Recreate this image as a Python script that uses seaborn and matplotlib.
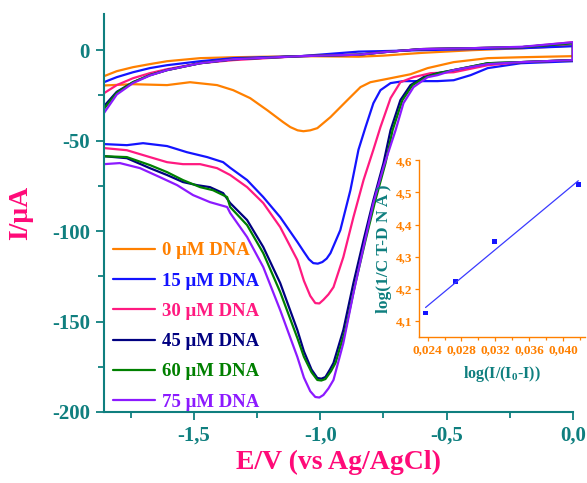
import numpy as np
import pandas as pd
import matplotlib
matplotlib.use("Agg")
import matplotlib.pyplot as plt
import seaborn as sns
from matplotlib.lines import Line2D
from matplotlib.ticker import MultipleLocator, FuncFormatter

# ---- data ----
series = ["0 μM DNA", "15 μM DNA", "30 μM DNA", "45 μM DNA", "60 μM DNA", "75 μM DNA"]
colors = ["#ff8000", "#1414ff", "#ff1a80", "#000080", "#008000", "#8c1aff"]

# upper (return) branch, same E points for every curve
e_up = [-1.857, -1.806, -1.742, -1.675, -1.607, -1.476, -1.345, -1.079, -0.849, -0.75, -0.6, -0.4, -0.2, 0.0]
i_up = {
    "0 μM DNA":  [-14.4, -11.6, -9.4, -7.7, -6.1, -4.4, -3.9, -3.3, -3.6, -3.0, -1.5, 0.0, 1.1, 2.5],
    "15 μM DNA": [-17.7, -14.9, -12.2, -9.9, -8.3, -6.1, -4.4, -3.3, -0.8, -0.5, 0.0, 0.6, 1.1, 2.2],
    "30 μM DNA": [-23.8, -19.3, -15.5, -12.7, -10.5, -7.2, -5.5, -3.3, -2.5, -1.1, 0.6, 1.1, 1.7, 4.4],
    "45 μM DNA": [-31.0, -23.0, -17.7, -13.8, -11.0, -7.2, -5.0, -3.3, -2.5, -1.1, 0.6, 1.1, 1.7, 3.9],
    "60 μM DNA": [-32.5, -23.5, -17.7, -13.8, -11.0, -7.2, -5.0, -3.3, -2.5, -1.1, 0.6, 1.1, 1.7, 3.9],
    "75 μM DNA": [-34.8, -24.5, -18.2, -14.0, -11.0, -7.2, -5.0, -3.3, -2.5, -1.1, 0.6, 1.1, 1.9, 4.4],
}

# lower (cathodic) branch, left to right
e_dn = {
    "0 μM DNA": [-1.857, -1.742, -1.607, -1.516, -1.409, -1.345, -1.278, -1.210, -1.147, -1.119, -1.090,
                 -1.067, -1.040, -1.012, -0.960, -0.893, -0.841, -0.802, -0.722, -0.643, -0.575, -0.472,
                 -0.337, -0.206, 0.0],
    "15 μM DNA": [-1.857, -1.766, -1.702, -1.607, -1.528, -1.448, -1.385, -1.357, -1.290, -1.226, -1.159,
                  -1.091, -1.065, -1.045, -1.028, -1.010, -0.992, -0.975, -0.960, -0.921, -0.881, -0.849,
                  -0.821, -0.790, -0.762, -0.722, -0.671, -0.603, -0.536, -0.472, -0.405, -0.337, -0.206, 0.0],
    "30 μM DNA": [-1.857, -1.766, -1.675, -1.607, -1.544, -1.476, -1.409, -1.357, -1.290, -1.226, -1.159,
                  -1.091, -1.065, -1.040, -1.020, -1.004, -0.988, -0.968, -0.948, -0.909, -0.869, -0.829,
                  -0.790, -0.762, -0.722, -0.683, -0.631, -0.563, -0.472, -0.337, -0.206, 0.0],
    "45 μM DNA": [-1.857, -1.766, -1.675, -1.607, -1.544, -1.488, -1.437, -1.385, -1.357, -1.290, -1.226,
                  -1.159, -1.091, -1.065, -1.035, -1.012, -0.996, -0.980, -0.962, -0.948, -0.909, -0.869,
                  -0.829, -0.790, -0.750, -0.722, -0.683, -0.643, -0.591, -0.536, -0.472, -0.337, -0.206, 0.0],
    "60 μM DNA": [-1.857, -1.766, -1.675, -1.607, -1.544, -1.476, -1.425, -1.369, -1.357, -1.290, -1.226,
                  -1.159, -1.091, -1.065, -1.035, -1.012, -0.996, -0.980, -0.958, -0.940, -0.901, -0.861,
                  -0.821, -0.782, -0.742, -0.714, -0.675, -0.635, -0.583, -0.532, -0.472, -0.337, -0.206, 0.0],
    "75 μM DNA": [-1.857, -1.794, -1.714, -1.635, -1.567, -1.504, -1.437, -1.369, -1.357, -1.290, -1.226,
                  -1.159, -1.091, -1.065, -1.040, -1.020, -1.004, -0.988, -0.968, -0.948, -0.909, -0.869,
                  -0.829, -0.790, -0.750, -0.702, -0.671, -0.631, -0.575, -0.536, -0.472, -0.337, -0.206, 0.0],
}
i_dn = {
    "0 μM DNA": [-19.5, -18.8, -19.3, -17.7, -19.3, -22.1, -26.5, -33.2, -39.8, -42.5, -44.3,
                 -44.8, -44.3, -43.1, -37.0, -27.6, -20.4, -17.7, -15.5, -13.3, -9.9, -6.6,
                 -4.4, -3.9, -3.3],
    "15 μM DNA": [-51.9, -52.5, -51.4, -53.0, -56.4, -59.1, -61.9, -65.0, -71.8, -81.2, -92.3,
                  -106.0, -111.5, -115.6, -117.7, -118.0, -117.1, -115.2, -112.2, -99.5, -77.4, -55.0,
                  -42.5, -29.3, -22.1, -18.2, -17.1, -17.1, -17.1, -16.6, -13.8, -9.9, -7.2, -6.1],
    "30 μM DNA": [-54.1, -55.3, -59.1, -61.9, -63.0, -63.0, -65.2, -69.0, -75.7, -84.5, -97.8,
                  -116.0, -127.5, -135.8, -139.8, -140.0, -138.0, -135.0, -131.0, -114.4, -92.3, -71.8,
                  -55.0, -42.5, -26.5, -17.7, -14.9, -12.7, -12.2, -8.3, -6.6, -5.5],
    "45 μM DNA": [-58.6, -59.7, -65.2, -69.0, -72.9, -74.6, -75.7, -79.0, -84.5, -93.9, -108.8,
                  -128.7, -154.7, -166.5, -176.5, -181.2, -181.6, -180.7, -176.5, -172.9, -154.7, -128.7,
                  -105.0, -82.9, -62.4, -44.2, -27.6, -19.3, -14.9, -12.7, -11.0, -7.2, -6.6, -5.5],
    "60 μM DNA": [-58.6, -59.1, -63.5, -67.4, -71.8, -75.7, -77.4, -81.2, -86.7, -96.7, -112.2,
                  -133.7, -159.1, -169.5, -178.0, -182.3, -182.6, -181.8, -177.5, -172.9, -154.7, -128.7,
                  -105.0, -82.9, -62.4, -44.2, -27.6, -19.3, -14.9, -12.7, -11.0, -7.2, -6.6, -5.5],
    "75 μM DNA": [-63.0, -62.4, -65.2, -70.2, -74.6, -80.1, -84.0, -86.7, -90.0, -103.3, -119.9,
                  -143.7, -169.6, -181.0, -188.5, -191.7, -192.0, -190.6, -187.0, -182.3, -161.9, -134.3,
                  -108.8, -84.5, -64.6, -44.2, -29.3, -20.4, -14.9, -13.8, -11.0, -7.7, -6.6, -5.5],
}

# inset: binding plot
inset_x = [0.02376, 0.02729, 0.03192, 0.04178]
inset_y = [4.125, 4.223, 4.347, 4.524]

teal = "#0f7f7f"
pink = "#ff0a78"
orange = "#ff8000"

# build long table: upper branch left->right, then lower branch right->left
rows = []
for s in series:
    ee = list(e_up) + list(reversed(e_dn[s]))
    ii = list(i_up[s]) + list(reversed(i_dn[s]))
    for k, (e, i) in enumerate(zip(ee, ii)):
        rows.append({"E": e, "I": i, "series": s, "k": k})
df = pd.DataFrame(rows)

sns.set_theme(style="ticks")
plt.rcParams["font.family"] = ["Liberation Serif", "DejaVu Serif"]
plt.rcParams["font.weight"] = "bold"
plt.rcParams["axes.unicode_minus"] = False
plt.rcParams["mathtext.fontset"] = "custom"
plt.rcParams["mathtext.rm"] = "Liberation Serif:bold"
plt.rcParams["mathtext.bf"] = "Liberation Serif:bold"

fig = plt.figure(figsize=(5.87, 4.83), dpi=100)
ax = fig.add_axes([0.177, 0.147, 0.799, 0.824])

sns.lineplot(data=df, x="E", y="I", hue="series", palette=dict(zip(series, colors)),
             sort=False, estimator=None, lw=1.6, legend=False, ax=ax)

ax.set_xlim(-1.857, 0.0)
ax.set_ylim(-200, 20)
ax.xaxis.set_major_locator(MultipleLocator(0.5))
ax.xaxis.set_minor_locator(MultipleLocator(0.25))
ax.yaxis.set_major_locator(MultipleLocator(50))
ax.yaxis.set_minor_locator(MultipleLocator(25))
ax.xaxis.set_major_formatter(FuncFormatter(lambda v, p: f"{v:.1f}".replace(".", ",").replace("-0,0", "0,0")))
ax.yaxis.set_major_formatter(FuncFormatter(lambda v, p: f"{v:.0f}"))

for side in ["top", "right"]:
    ax.spines[side].set_visible(False)
for side in ["left", "bottom"]:
    ax.spines[side].set_color(teal)
    ax.spines[side].set_linewidth(1.5)
ax.tick_params(which="major", direction="out", length=6, width=1.3, color=teal,
               labelcolor=teal, labelsize=15, pad=4)
ax.tick_params(which="minor", direction="out", length=4, width=1.3, color=teal)
for t in ax.get_xticklabels() + ax.get_yticklabels():
    t.set_fontweight("bold")

ax.set_xlabel("E/V (vs Ag/AgCl)", fontsize=20, fontweight="bold", color=pink)
ax.set_ylabel("I/μA", fontsize=20, fontweight="bold", color=pink)
ax.xaxis.set_label_coords(0.5, -0.095)
ax.yaxis.set_label_coords(-0.15, 0.5)

handles = [Line2D([], [], color=c, lw=1.6) for c in colors]
leg = ax.legend(handles, series, loc="lower left", bbox_to_anchor=(-0.005, -0.025),
                frameon=False, handlelength=2.25, handletextpad=0.35,
                labelspacing=0.7, borderaxespad=0.2,
                prop={"family": "Liberation Serif", "weight": "bold", "size": 13.5})
for txt, c in zip(leg.get_texts(), colors):
    txt.set_color(c)

# ---- inset ----
ax2 = fig.add_axes([0.714, 0.302, 0.283, 0.366])
ax2.set_facecolor("none")
sns.scatterplot(x=inset_x, y=inset_y, marker="s", s=12, color="#1414ff", edgecolor="none", ax=ax2)
slope, icpt = np.polyfit(inset_x, inset_y, 1)
fit_x = np.array([min(inset_x), max(inset_x)])
ax2.plot(fit_x, slope * fit_x + icpt, color="#3a3aff", lw=0.9)

ax2.set_xlim(0.0230, 0.0426)
ax2.set_ylim(4.05, 4.6)
ax2.xaxis.set_major_locator(MultipleLocator(0.004))
ax2.xaxis.set_minor_locator(MultipleLocator(0.002))
ax2.yaxis.set_major_locator(MultipleLocator(0.1))
ax2.xaxis.set_major_formatter(FuncFormatter(lambda v, p: f"{v:.3f}".replace(".", ",")))
ax2.yaxis.set_major_formatter(FuncFormatter(lambda v, p: f"{v:.1f}".replace(".", ",")))
for side in ["top", "right"]:
    ax2.spines[side].set_visible(False)
for side in ["left", "bottom"]:
    ax2.spines[side].set_color(orange)
    ax2.spines[side].set_linewidth(1.0)
ax2.tick_params(which="major", direction="out", length=3, width=0.9, color=orange,
                labelcolor=orange, labelsize=9.5, pad=2)
ax2.tick_params(which="minor", direction="out", length=2, width=0.9, color=orange)
for t in ax2.get_xticklabels() + ax2.get_yticklabels():
    t.set_fontweight("bold")
ax2.set_xlabel(r"log(I/(I$_0$-I))", fontsize=11.5, fontweight="bold", color=teal, labelpad=6)
ax2.set_ylabel("log(1/C T-D N A )", fontsize=12.5, fontweight="bold", color=teal, labelpad=3)

fig.savefig("out.png", dpi=100)
